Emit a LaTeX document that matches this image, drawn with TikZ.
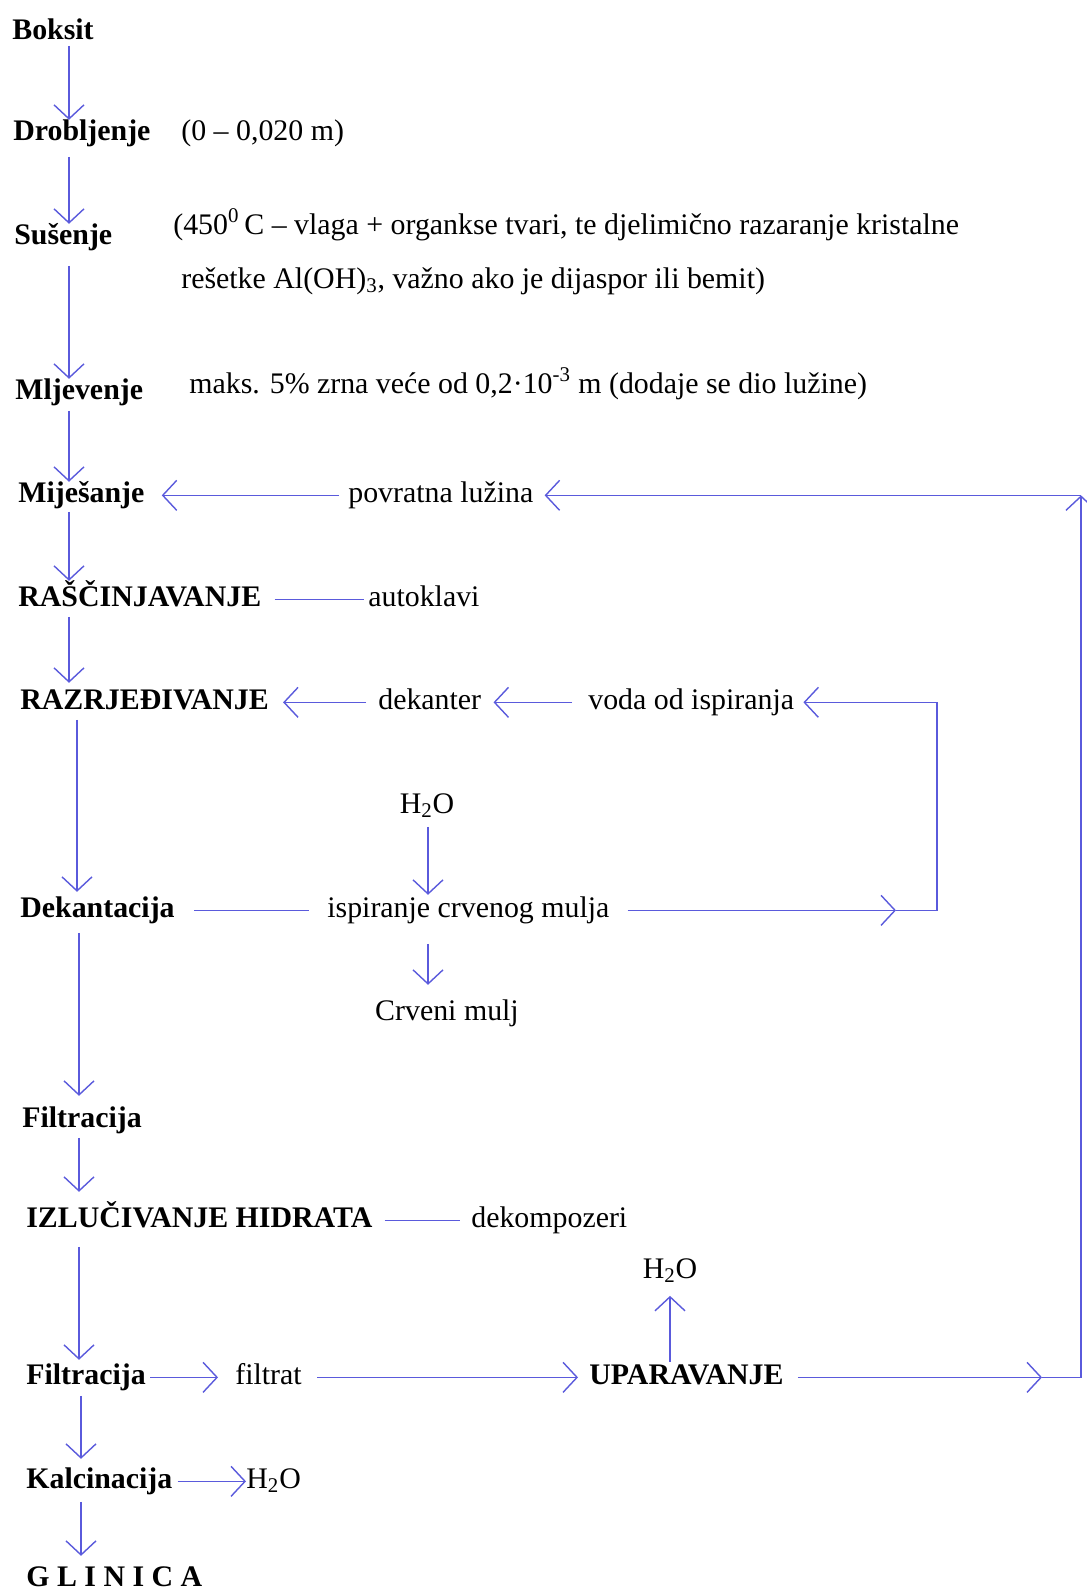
\documentclass[tikz,border=0pt]{standalone}
\usepackage{fontspec}
\setmainfont{Liberation Serif}
\usetikzlibrary{arrows.meta, positioning, calc}
\definecolor{linija}{RGB}{90,90,220}
\tikzset{
  korak/.style={anchor=west, inner sep=0pt, text height=11.3pt, text depth=3.7pt, yshift=-1.9pt,
    font=\fontsize{17}{20}\selectfont\bfseries},
  opis/.style={anchor=west, inner sep=0pt, text height=11.3pt, text depth=3.7pt, yshift=-1.9pt,
    font=\fontsize{17}{20}\selectfont},
  tok/.style={draw=linija, line width=0.8pt},
}

\begin{document}
\begin{tikzpicture}[x=0.02cm, y=-0.02cm, >={Straight Barb[length=0.28cm, width=0.6cm]}]
  \useasboundingbox (0,0) rectangle (1086,1594);

  % Glavni tok
  \node[korak] (boksit) at (12,29) {Boksit};
  \node[korak] (drob) at (13,130) {Drobljenje};
  \node[opis] (drobopis) at (181,130) {(0 – 0,020 m)};
  \node[korak] (susenje) at (14,234) {Sušenje};
  \node[opis] (susopisA) at (173,224) {(450\textsuperscript{0}\,C – vlaga + organkse tvari, te djelimično razaranje kristalne};
  \node[opis] (susopisB) at (181,278) {rešetke Al(OH)\textsubscript{3}, važno ako je dijaspor ili bemit)};
  \node[korak] (mljev) at (15,389) {Mljevenje};
  \node[opis] (mljopis) at (189,383) {maks. 5\% zrna veće od 0,2·10\textsuperscript{-3} m (dodaje se dio lužine)};
  \node[korak] (mijes) at (18,492) {Miješanje};
  \node[opis] (povratna) at (348,492) {povratna lužina};
  \node[korak] (rasc) at (18,596) {RAŠČINJAVANJE};
  \node[opis] (autoklavi) at (368,596) {autoklavi};
  \node[korak] (razr) at (20,699) {RAZRJEĐIVANJE};
  \node[opis] (dekanter) at (378,699) {dekanter};
  \node[opis] (voda) at (588,699) {voda od ispiranja};
  \node[opis, anchor=center] (vodaA) at (427,803) {H\textsubscript{2}O};
  \node[korak] (dekan) at (20,907) {Dekantacija};
  \node[opis] (ispir) at (327,907) {ispiranje crvenog mulja};
  \node[opis, anchor=center] (mulj) at (447,1010) {Crveni mulj};
  \node[korak] (filtA) at (22,1117) {Filtracija};
  \node[korak] (izluc) at (26,1217) {IZLUČIVANJE HIDRATA};
  \node[opis] (dekomp) at (471,1217) {dekompozeri};
  \node[korak] (filtB) at (26,1374) {Filtracija};
  \node[opis] (filtrat) at (235,1374) {filtrat};
  \node[korak] (upar) at (589,1374) {UPARAVANJE};
  \node[opis, anchor=center] (vodaB) at (670,1268) {H\textsubscript{2}O};
  \node[korak] (kalc) at (26,1478) {Kalcinacija};
  \node[opis] (vodaC) at (246,1478) {H\textsubscript{2}O};
  \node[korak] (glinica) at (26,1576) {G L I N I C A};

  % stupci strelica
  \coordinate (k1) at (69,0);
  \coordinate (k2) at (77,0);
  \coordinate (k3) at (79,0);
  \coordinate (k4) at (81,0);
  \coordinate (s1) at (428,0);
  \coordinate (tipB) at (896,0);
  \coordinate (desnoB) at (937,0);
  \coordinate (tipD) at (1042,0);
  \coordinate (desno) at (1081,0);

  % okomite strelice
  \draw[tok,->] (boksit.south -| k1) -- (drob.north -| k1);
  \draw[tok,->,shorten <=0.2cm] (drob.south -| k1) -- (susenje.north -| k1);
  \draw[tok,->,shorten <=0.3cm] (susenje.south -| k1) -- (mljev.north -| k1);
  \draw[tok,->,shorten <=0.1cm] (mljev.south -| k1) -- (mijes.north -| k1);
  \draw[tok,->,shorten <=0.06cm,shorten >=0.1cm] (mijes.south -| k1) -- (rasc.north -| k1);
  \draw[tok,->,shorten <=0.08cm,shorten >=0.12cm] (rasc.south -| k1) -- (razr.north -| k1);
  \draw[tok,->,shorten <=0.08cm,shorten >=0.1cm] (razr.south -| k2) -- (dekan.north -| k2);
  \draw[tok,->,shorten <=0.18cm,shorten >=0.22cm] (dekan.south -| k3) -- (filtA.north -| k3);
  \draw[tok,->,shorten <=0.08cm,shorten >=0.3cm] (filtA.south -| k3) -- (izluc.north -| k3);
  \draw[tok,->,shorten <=0.26cm,shorten >=0.08cm] (izluc.south -| k3) -- (filtB.north -| k3);
  \draw[tok,->,shorten <=0.1cm,shorten >=0.18cm] (filtB.south -| k4) -- (kalc.north -| k4);
  \draw[tok,->,shorten <=0.14cm,shorten >=0.2cm] (kalc.south -| k4) -- (glinica.north -| k4);

  % bocni tokovi
  \draw[tok,->,shorten <=0.18cm,shorten >=0.34cm] (povratna.west) -- (povratna.west -| mijes.east);
  \draw[tok,shorten <=0.26cm,shorten >=0.08cm] (rasc.east) -- (rasc.east -| autoklavi.west);
  \draw[tok,->,shorten <=0.32cm,shorten >=0.24cm] (voda.west) -- (voda.west -| dekanter.east);
  \draw[tok,->,shorten <=0.24cm,shorten >=0.28cm] (dekanter.west) -- (dekanter.west -| razr.east);
  \draw[tok,shorten <=0.38cm,shorten >=0.36cm] (dekan.east) -- (dekan.east -| ispir.west);
  \draw[tok,->,shorten <=0.14cm,shorten >=0.04cm] (vodaA.south -| s1) -- (ispir.north -| s1);
  \draw[tok,->,shorten <=0.4cm,shorten >=0.3cm] (ispir.south -| s1) -- (mulj.north -| s1);
  \draw[tok,shorten <=0.24cm,shorten >=0.22cm] (izluc.east) -- (izluc.east -| dekomp.west);
  \draw[tok,->,shorten <=0.08cm,shorten >=0.34cm] (filtB.east) -- (filtB.east -| filtrat.west);
  \draw[tok,->,shorten <=0.3cm,shorten >=0.22cm] (filtrat.east) -- (filtrat.east -| upar.west);
  \draw[tok,->,shorten <=0.04cm,shorten >=0.22cm] (upar.north -| vodaB) -- (vodaB.south);
  \draw[tok,->,shorten <=0.1cm] (kalc.east) -- (kalc.east -| vodaC.west);

  % voda od ispiranja natrag
  \coordinate (strelB) at (ispir.east -| tipB);
  \coordinate (kutB1) at (ispir.east -| desnoB);
  \coordinate (kutB2) at (voda.east -| desnoB);
  \draw[tok,->,shorten <=0.36cm] (ispir.east) -- (strelB);
  \draw[tok,->,shorten >=0.18cm] (strelB) -- (kutB1) -- (kutB2) -- (voda.east);

  % povratna luzina
  \coordinate (strelD) at (upar.east -| tipD);
  \coordinate (kutdolje) at (upar.east -| desno);
  \coordinate (kutgore) at (povratna.east -| desno);
  \draw[tok,->,shorten <=0.28cm] (upar.east) -- (strelD);
  \draw[tok,->] (strelD) -- (kutdolje) -- (kutgore);
  \draw[tok,->,shorten >=0.22cm] (kutgore) -- (povratna.east);
\end{tikzpicture}
\end{document}
